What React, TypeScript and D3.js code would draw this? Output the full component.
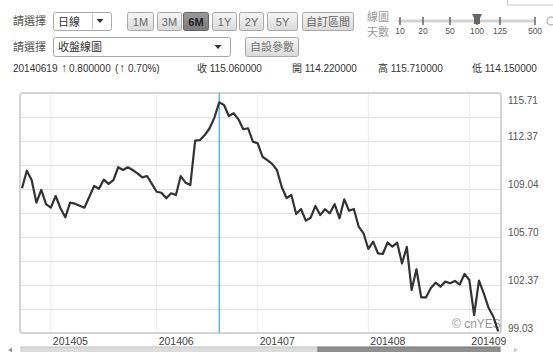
import React from 'react';
import * as d3 from 'd3';

// ---- data ----
const startDate = new Date(2014, 3, 23);
const endDate = new Date(2014, 8, 10);
const dates: Date[] = d3.timeDays(startDate, endDate).filter(d => d.getDay() !== 0 && d.getDay() !== 6);
const fmtDay = d3.timeFormat('%Y%m%d');
const fmtMonth = d3.timeFormat('%Y%m');

const closes: number[] = [
  109.09, 110.31, 109.66, 108.09, 108.97, 107.99, 107.74, 108.55, 107.70, 107.07,
  108.09, 108.02, 107.88, 107.74, 108.50, 109.25, 109.06, 109.69, 109.39, 109.66,
  110.55, 110.36, 110.55, 110.36, 110.13, 109.85, 109.94, 109.39, 108.85, 108.78,
  108.39, 108.74, 108.62, 109.94, 109.48, 109.32, 112.40, 112.44, 112.79, 113.26,
  114.00, 115.06, 114.88, 114.11, 114.30, 113.88, 113.19, 113.26, 112.33, 112.21,
  111.28, 111.05, 110.78, 110.36, 109.18, 108.41, 108.62, 107.30, 107.65, 106.84,
  107.04, 107.86, 107.23, 107.63, 107.35, 107.98, 107.00, 108.32, 107.53, 107.65,
  106.42, 105.96, 104.87, 105.38, 104.57, 104.52, 105.32, 105.03, 105.31, 103.86,
  105.01, 102.02, 103.46, 101.51, 101.51, 102.16, 102.53, 102.25, 102.60, 102.49,
  102.65, 102.40, 103.13, 102.71, 100.28, 102.67, 101.79, 100.78, 100.16, 99.14,
];

const yMin = 99.03;
const yMax = 115.71;
const yTickLabels = ['115.71', '112.37', '109.04', '105.70', '102.37', '99.03'];
const cursorDate = '20140619';
const infoDate = '20140619';
const infoChange = '0.800000';
const infoPct = '0.70%)';
const infoOthers = ['收 115.060000', '開 114.220000', '高 115.710000', '低 114.150000'];
const rangeButtons = ['1M', '3M', '6M', '1Y', '2Y', '5Y', '自訂區間'];
const activeRange = '6M';
const sliderTicks = ['10', '20', '50', '100', '125', '500'];
const sliderActive = '100';

const FONT = '"Liberation Sans", Arial, "Noto Sans CJK TC", sans-serif';

export default function App() {
  const W = 553, H = 352;
  const left = 20, top = 93, right = 501, bottom = 333;

  const keys = dates.map(d => fmtDay(d));
  const x = d3.scalePoint<string>().domain(keys).range([22, 498.2]);
  const y = d3.scaleLinear().domain([yMin, yMax]).range([bottom, top]);

  const line = d3.line<number>()
    .x((_, i) => x(keys[i]) as number)
    .y(d => y(d));

  const gridVals = d3.range(11).map(i => yMin + (yMax - yMin) * i / 10);
  const monthStarts = dates.filter((d, i) => i > 0 && d.getMonth() !== dates[i - 1].getMonth());

  const btnX = [127, 157, 183, 212, 239, 267, 302];
  const btnW = [26, 24, 25, 24, 24, 30, 51];

  const sliderPos: Record<string, number> = { '10': 400, '20': 423, '50': 450, '100': 477, '125': 500, '500': 535 };
  const infoX = [197, 292, 378, 472];
  const hp = sliderPos[sliderActive];

  return (
    <svg width={W} height={H} style={{ position: 'absolute', left: 0, top: 0, background: '#fff', fontFamily: FONT }}>
      <defs>
        <linearGradient id="btn" x1="0" x2="0" y1="0" y2="1">
          <stop offset="0" stopColor="#f6f6f6" />
          <stop offset="1" stopColor="#d9d9d9" />
        </linearGradient>
        <linearGradient id="btnA" x1="0" x2="0" y1="0" y2="1">
          <stop offset="0" stopColor="#9a9a9a" />
          <stop offset="1" stopColor="#7a7a7a" />
        </linearGradient>
      </defs>

      {/* top-right fragments */}
      <rect x={507.5} y={-3} width={50} height={8} fill="#fff" stroke="#c8c8c8" />
      <circle cx={551} cy={21} r={4} fill="none" stroke="#bbb" strokeWidth={1.5} />

      {/* row 1 */}
      <text x={13} y={25} fontSize={11} fill="#555">請選擇</text>
      <rect x={53.5} y={12.5} width={58} height={18} fill="#fff" stroke="#a9a9a9" rx={2} />
      <text x={58} y={25.5} fontSize={11} fill="#333">日線</text>
      <line x1={92.5} x2={92.5} y1={14} y2={29} stroke="#ccc" />
      <path d="M96.5,19 L103.5,19 L100,23 Z" fill="#333" />

      {rangeButtons.map((b, i) => {
        const active = b === activeRange;
        return (
          <g key={b}>
            <rect x={btnX[i] + 0.5} y={12.5} width={btnW[i]} height={18} rx={2}
              fill={active ? 'url(#btnA)' : 'url(#btn)'} stroke={active ? '#666' : '#a9a9a9'} />
            <text x={btnX[i] + 0.5 + btnW[i] / 2} y={25.5} fontSize={11} textAnchor="middle"
              fill={active ? '#222' : '#666'} fontWeight={active ? 'bold' : 'normal'}>{b}</text>
          </g>
        );
      })}

      <text x={367} y={21} fontSize={11} fill="#999">線圖</text>
      <text x={367} y={36} fontSize={11} fill="#999">天數</text>
      <line x1={398} x2={535} y1={21} y2={21} stroke="#d3d3d3" strokeWidth={3} />
      {sliderTicks.map(t => (
        <g key={t}>
          <line x1={sliderPos[t]} x2={sliderPos[t]} y1={17} y2={25} stroke="#666" strokeWidth={1.5} />
          <text x={sliderPos[t]} y={34} fontSize={8.5} fill="#555" textAnchor="middle">{t}</text>
        </g>
      ))}
      <path d={`M${hp - 5},14 L${hp + 5},14 L${hp + 3},18 L${hp + 3},24 L${hp - 3},24 L${hp - 3},18 Z`} fill="#666" />

      {/* row 2 */}
      <text x={13} y={51} fontSize={11} fill="#555">請選擇</text>
      <rect x={53.5} y={37.5} width={177} height={19} fill="#fff" stroke="#a9a9a9" rx={2} />
      <text x={58} y={51} fontSize={11} fill="#333">收盤線圖</text>
      <path d="M214.5,45 L221.5,45 L218,49 Z" fill="#333" />
      <rect x={245.5} y={37.5} width={53} height={19} rx={2} fill="url(#btn)" stroke="#a9a9a9" />
      <text x={272} y={51} fontSize={11} fill="#777" textAnchor="middle">自設參數</text>

      {/* row 3 */}
      <text x={13} y={72} fontSize={10} fill="#333">{infoDate}</text>
      <text x={61} y={72} fontSize={12} fill="#444">↑</text>
      <text x={69} y={72} fontSize={10} fill="#333">{infoChange}</text>
      <text x={115} y={72} fontSize={10} fill="#333">(</text>
      <text x={119} y={72} fontSize={12} fill="#444">↑</text>
      <text x={128} y={72} fontSize={10} fill="#333">{infoPct}</text>
      {infoOthers.map((t, i) => (
        <text key={i} x={infoX[i]} y={72} fontSize={10} fill="#333">{t}</text>
      ))}

      {/* chart grid */}
      <g>
        {gridVals.map((v, i) => (
          <line key={i} x1={left} x2={right} y1={Math.round(y(v)) + 0.5} y2={Math.round(y(v)) + 0.5} stroke="#e2e2e2" />
        ))}
        {monthStarts.map(d => {
          const xx = x(fmtDay(d)) as number;
          return <line key={+d} x1={xx} x2={xx} y1={top} y2={bottom} stroke="#ececec" />;
        })}
        <rect x={left} y={top} width={right - left} height={bottom - top} fill="none" stroke="#d4d4d4" strokeWidth={2} rx={3} />
      </g>

      {/* watermark */}
      <text x={452} y={328} fontSize={12} fill="#9a9a9a">© cnYES</text>

      {/* cursor */}
      <line x1={x(cursorDate)} x2={x(cursorDate)} y1={top} y2={bottom} stroke="#3aaed8" strokeWidth={1.2} />

      {/* close line */}
      <path d={line(closes) || ''} fill="none" stroke="#333" strokeWidth={2.2} strokeLinejoin="round" />

      {/* y labels */}
      {yTickLabels.map(t => (
        <text key={t} x={508} y={Math.max(y(+t) - 1, 104)} fontSize={10} fill="#555">{t}</text>
      ))}

      {/* x labels */}
      {monthStarts.map(d => (
        <text key={+d} x={(x(fmtDay(d)) as number) + 2} y={345} fontSize={10.5} fill="#444">{fmtMonth(d)}</text>
      ))}

      {/* scrollbar */}
      <rect x={21} y={347} width={297} height={8} fill="#dcdcdc" stroke="#c4c4c4" />
      <rect x={318} y={347} width={182} height={8} fill="#8f8f8f" stroke="#777" />
      <path d="M8,350 L12,347.5 L12,352.5 Z" fill="#999" />
      <path d="M518,350 L514,347.5 L514,352.5 Z" fill="#ccc" />
    </svg>
  );
}
